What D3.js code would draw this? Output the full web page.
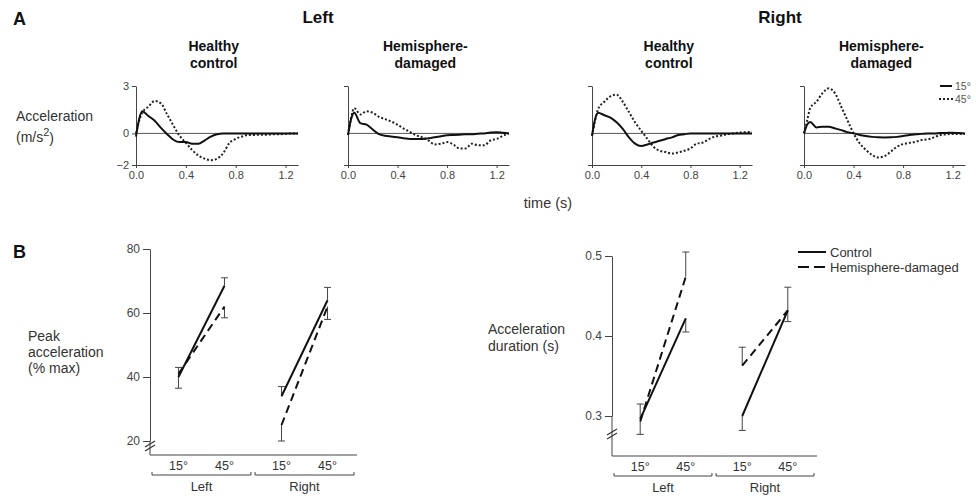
<!DOCTYPE html>
<html>
<head>
<meta charset="utf-8">
<script src="https://cdn.jsdelivr.net/npm/d3@7"></script>
<style>
    body { margin: 0; background: #fff; }
    svg { font-family: "Liberation Sans", Arial, sans-serif; }
    .axis path, .axis line { stroke: #444; }
    .axis text { fill: #444; font-size: 11px; }
</style>
</head>
<body>
<script>
// ---- panel A : acceleration traces (m/s^2) ----
var times = [0, 0.025, 0.05, 0.1, 0.15, 0.2, 0.25, 0.3, 0.35, 0.4, 0.45, 0.5, 0.55, 0.6, 0.65,
    0.7, 0.75, 0.8, 0.85, 0.9, 0.95, 1.0, 1.05, 1.1, 1.15, 1.2, 1.25, 1.3];

var leftHealthy15 = [-0.2, 0.9, 1.4, 1.1, 0.8, 0.35, -0.05, -0.4, -0.55, -0.55, -0.65, -0.65, -0.45, -0.2, -0.05,
    0, 0, 0, 0, 0, 0, 0, 0, 0, 0, 0, 0, 0];
var leftHealthy45 = [0, 0.8, 1.3, 1.7, 2.05, 1.9, 1.2, 0.5, -0.15, -0.6, -1.05, -1.4, -1.6, -1.7, -1.6,
    -1.25, -0.6, -0.35, -0.2, -0.1, -0.1, -0.08, -0.08, -0.06, -0.05, -0.03, 0, 0];
var leftDamaged15 = [-0.1, 0.9, 1.3, 0.65, 0.55, 0.25, -0.05, -0.15, -0.2, -0.25, -0.3, -0.35, -0.35, -0.35, -0.3,
    -0.25, -0.18, -0.12, -0.1, -0.08, -0.06, -0.05, -0.02, 0, 0.05, 0.08, 0.04, 0];
var leftDamaged45 = [-0.1, 1.0, 1.6, 1.2, 1.4, 1.3, 1.05, 0.9, 0.75, 0.55, 0.3, 0.1, -0.12, -0.25, -0.45,
    -0.7, -0.65, -0.55, -0.7, -0.95, -0.95, -0.65, -0.75, -0.75, -0.45, -0.35, -0.15, 0];
var rightHealthy15 = [-0.15, 0.9, 1.3, 1.15, 1.0, 0.7, 0.28, -0.25, -0.65, -0.8, -0.7, -0.58, -0.47, -0.35, -0.25,
    -0.1, -0.05, 0, 0, 0, 0, 0, 0, 0, 0, 0, 0, 0];
var rightHealthy45 = [-0.15, 0.8, 1.55, 2.0, 2.35, 2.45, 2.0, 1.35, 0.7, 0.17, -0.35, -0.85, -1.1, -1.18, -1.28,
    -1.2, -1.1, -0.95, -0.65, -0.58, -0.36, -0.2, -0.13, -0.05, 0, 0.05, 0.08, 0.1];
var rightDamaged15 = [0, 0.55, 0.72, 0.38, 0.42, 0.42, 0.32, 0.21, 0.08, 0, -0.1, -0.17, -0.22, -0.25, -0.26,
    -0.25, -0.22, -0.17, -0.1, -0.06, -0.03, 0, 0, 0.02, 0.03, 0.04, 0.02, 0];
var rightDamaged45 = [0, 0.8, 1.6, 2.0, 2.55, 2.85, 2.55, 1.7, 0.85, 0, -0.63, -1.05, -1.37, -1.52, -1.44,
    -1.16, -0.85, -0.68, -0.6, -0.53, -0.42, -0.38, -0.25, -0.1, -0.06, -0.04, -0.04, -0.04];

var timeTicks = [0, 0.4, 0.8, 1.2];

// ---- panel B : group means and error bar ends ----
var sides = ["Left", "Right"];
var angles = ["15°", "45°"];
var peakControl = [40, 68.5, 34, 64];
var peakControlErr = [43, 71, 37, 68];
var peakDamaged = [41, 62, 25, 62];
var peakDamagedErr = [36.5, 58.5, 20, 58];
var durControl = [0.296, 0.422, 0.300, 0.432];
var durControlErr = [0.315, 0.405, 0.282, 0.418];
var durDamaged = [0.293, 0.474, 0.363, 0.432];
var durDamagedErr = [0.277, 0.505, 0.386, 0.461];

var svg = d3.select("body").append("svg")
    .attr("width", 976)
    .attr("height", 496);

function label(x, y, txt, size, weight, anchor, fill) {
    return svg.append("text")
        .attr("x", x).attr("y", y)
        .attr("dy", "0.35em")
        .attr("text-anchor", anchor || "start")
        .style("font-size", size + "px")
        .style("font-weight", weight || "normal")
        .style("fill", fill || "#333")
        .text(txt);
}

// panel letters and headings
label(13, 19, "A", 18, "bold", "start", "#111");
label(13, 252, "B", 18, "bold", "start", "#111");
label(318, 17, "Left", 17, "bold", "middle", "#111");
label(780, 17, "Right", 17, "bold", "middle", "#111");
label(548, 203, "time (s)", 14.5, "normal", "middle");
label(16, 116, "Acceleration", 14);
var unit = label(16, 137, "(m/s", 14);
unit.append("tspan").attr("dy", "-0.5em").style("font-size", "11px").text("2");
unit.append("tspan").attr("dy", "0.5em").text(")");

// ---- panel A ----
var traces = [
    { title: ["Healthy", "control"], left: 136, end: 298, a: leftHealthy15, b: leftHealthy45, labels: true },
    { title: ["Hemisphere-", "damaged"], left: 348, end: 509, a: leftDamaged15, b: leftDamaged45 },
    { title: ["Healthy", "control"], left: 592, end: 752, a: rightHealthy15, b: rightHealthy45 },
    { title: ["Hemisphere-", "damaged"], left: 804, end: 965, a: rightDamaged15, b: rightDamaged45 }
];

var yA = d3.scaleLinear().domain([-2, 3]).range([165, 86]);

traces.forEach(function (p) {
    var x = d3.scaleLinear().domain([0, 1.3]).range([p.left, p.end]);
    var mid = (p.left + x(1.2)) / 2 + 3;
    label(mid, 46, p.title[0], 14, "bold", "middle", "#111");
    label(mid, 63, p.title[1], 14, "bold", "middle", "#111");

    svg.append("g").attr("class", "axis")
        .attr("transform", "translate(0,165)")
        .call(d3.axisBottom(x).tickValues(timeTicks).tickFormat(d3.format(".1f"))
            .tickSize(3).tickSizeOuter(0));
    svg.append("g").attr("class", "axis")
        .attr("transform", "translate(" + p.left + ",0)")
        .call(d3.axisLeft(yA).tickValues(p.labels ? [-2, 0, 3] : [-2, 3])
            .tickFormat(p.labels ? d3.format("d") : "").tickSize(4).tickSizeOuter(0));

    // zero line
    svg.append("line")
        .attr("x1", p.left).attr("x2", p.end)
        .attr("y1", yA(0)).attr("y2", yA(0))
        .attr("stroke", "#555").attr("stroke-width", 1);

    var line = d3.line()
        .x(function (d, i) { return x(times[i]); })
        .y(function (d) { return yA(d); })
        .curve(d3.curveMonotoneX);

    svg.append("path").datum(p.b)
        .attr("d", line).attr("fill", "none")
        .attr("stroke", "#222").attr("stroke-width", 2)
        .attr("stroke-dasharray", "2,2");
    svg.append("path").datum(p.a)
        .attr("d", line).attr("fill", "none")
        .attr("stroke", "#111").attr("stroke-width", 2);
});

// legend A
svg.append("line").attr("x1", 940).attr("x2", 952).attr("y1", 86).attr("y2", 86)
    .attr("stroke", "#111").attr("stroke-width", 2);
svg.append("line").attr("x1", 939).attr("x2", 953).attr("y1", 99).attr("y2", 99)
    .attr("stroke", "#222").attr("stroke-width", 2).attr("stroke-dasharray", "2,2");
label(955, 86, "15°", 10.5, "normal", "start", "#555");
label(955, 99, "45°", 10.5, "normal", "start", "#555");

// ---- panel B ----
function groupPlot(cfg) {
    var y = d3.scaleLinear().domain(cfg.domain).range(cfg.range);
    var outer = d3.scaleBand().domain(sides).range([cfg.left + 2, cfg.end - 3]).paddingInner(0.04);
    var inner = d3.scalePoint().domain(angles).range([0, outer.bandwidth()]).padding(0.575);
    var xpos = function (i) { return outer(sides[Math.floor(i / 2)]) + inner(angles[i % 2]); };

    svg.append("g").attr("class", "axis")
        .attr("transform", "translate(" + cfg.left + ",0)")
        .call(d3.axisLeft(y).tickValues(cfg.ticks).tickFormat(d3.format(cfg.fmt))
            .tickSize(7).tickSizeOuter(0))
        .selectAll("text").style("font-size", "12px");

    // axis down to the baseline, x axis line
    svg.append("line").attr("x1", cfg.left).attr("x2", cfg.left)
        .attr("y1", cfg.range[0]).attr("y2", cfg.base)
        .attr("stroke", "#444");
    svg.append("line").attr("x1", cfg.left).attr("x2", cfg.end)
        .attr("y1", cfg.base).attr("y2", cfg.base)
        .attr("stroke", "#444");

    // break marks
    [0, 4].forEach(function (o) {
        svg.append("line")
            .attr("x1", cfg.left - 5).attr("y1", cfg.brk + 3 + o)
            .attr("x2", cfg.left + 5).attr("y2", cfg.brk - 3 + o)
            .attr("stroke", "#333").attr("stroke-width", 1.2);
    });

    // category labels and brackets
    [0, 1, 2, 3].forEach(function (i) {
        svg.append("text").attr("x", xpos(i)).attr("y", cfg.base + 11).attr("dy", "0.35em")
            .attr("text-anchor", "middle").style("font-size", "12.5px").style("fill", "#333")
            .text(angles[i % 2]);
    });
    sides.forEach(function (s) {
        var x0 = outer(s), x1 = outer(s) + outer.bandwidth();
        svg.append("path")
            .attr("d", "M" + x0 + "," + (cfg.base + 17) + "V" + (cfg.base + 20) + "H" + x1 + "V" + (cfg.base + 17))
            .attr("fill", "none").attr("stroke", "#444");
        label((x0 + x1) / 2, cfg.base + 31, s, 13, "normal", "middle");
    });

    // error bars
    function errBars(vals, ends) {
        vals.forEach(function (v, i) {
            var x = xpos(i);
            svg.append("line").attr("x1", x).attr("x2", x)
                .attr("y1", y(v)).attr("y2", y(ends[i]))
                .attr("stroke", "#444").attr("stroke-width", 1);
            svg.append("line").attr("x1", x - 3.5).attr("x2", x + 3.5)
                .attr("y1", y(ends[i])).attr("y2", y(ends[i]))
                .attr("stroke", "#444").attr("stroke-width", 1);
        });
    }
    errBars(cfg.control, cfg.controlErr);
    errBars(cfg.damaged, cfg.damagedErr);

    // group lines, 15° to 45° within each side
    function seg(vals, dash) {
        [0, 2].forEach(function (s) {
            svg.append("line")
                .attr("x1", xpos(s)).attr("y1", y(vals[s]))
                .attr("x2", xpos(s + 1)).attr("y2", y(vals[s + 1]))
                .attr("stroke", "#111").attr("stroke-width", 2)
                .attr("stroke-dasharray", dash);
        });
    }
    seg(cfg.damaged, "8,5");
    seg(cfg.control, null);
}

groupPlot({
    left: 150, end: 357, base: 455, brk: 444,
    domain: [20, 80], range: [441, 249], ticks: [20, 40, 60, 80], fmt: "d",
    control: peakControl, controlErr: peakControlErr,
    damaged: peakDamaged, damagedErr: peakDamagedErr
});
groupPlot({
    left: 612, end: 817, base: 456, brk: 432,
    domain: [0.3, 0.5], range: [416, 256], ticks: [0.3, 0.4, 0.5], fmt: ".1f",
    control: durControl, controlErr: durControlErr,
    damaged: durDamaged, damagedErr: durDamagedErr
});

label(28, 336, "Peak", 14);
label(28, 352, "acceleration", 14);
label(28, 368, "(% max)", 14);
label(488, 329, "Acceleration", 14);
label(488, 346, "duration (s)", 14);

// legend B
svg.append("line").attr("x1", 798).attr("x2", 826).attr("y1", 252).attr("y2", 252)
    .attr("stroke", "#111").attr("stroke-width", 2);
svg.append("line").attr("x1", 798).attr("x2", 826).attr("y1", 267).attr("y2", 267)
    .attr("stroke", "#111").attr("stroke-width", 2).attr("stroke-dasharray", "11,5");
label(830, 252, "Control", 13);
label(830, 267, "Hemisphere-damaged", 13);
</script>
</body>
</html>
